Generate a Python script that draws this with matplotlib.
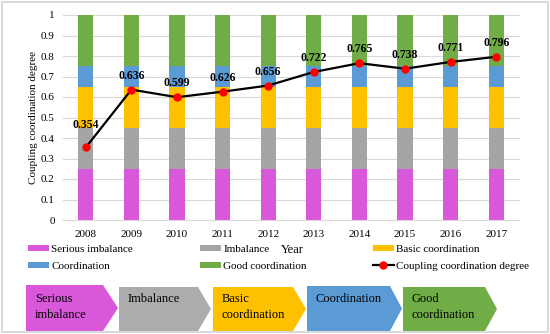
import numpy as np
import matplotlib
matplotlib.use('Agg')
import matplotlib.pyplot as plt
from matplotlib.patches import Polygon, Rectangle

plt.rcParams['font.family'] = ['Liberation Serif', 'DejaVu Serif']

years = ['2008', '2009', '2010', '2011', '2012', '2013', '2014', '2015', '2016', '2017']
degree = [0.354, 0.636, 0.599, 0.626, 0.656, 0.722, 0.765, 0.738, 0.771, 0.796]

# stacked band thicknesses per year
serious = [0.25, 0.25, 0.25, 0.25, 0.25, 0.25, 0.25, 0.25, 0.25, 0.25]
imbalance = [0.20, 0.20, 0.20, 0.20, 0.20, 0.20, 0.20, 0.20, 0.20, 0.20]
basic = [0.20, 0.20, 0.20, 0.20, 0.20, 0.20, 0.20, 0.20, 0.20, 0.20]
coord = [0.10, 0.10, 0.10, 0.10, 0.10, 0.10, 0.10, 0.10, 0.10, 0.10]
good = [0.25, 0.25, 0.25, 0.25, 0.25, 0.25, 0.25, 0.25, 0.25, 0.25]

band_names = ['Serious imbalance', 'Imbalance', 'Basic coordination', 'Coordination', 'Good coordination']
band_colors = ['#D957D9', '#A5A5A5', '#FFC000', '#5B9BD5', '#70AD47']
arrow_colors = ['#D957D9', '#AEABAB', '#FFC000', '#5B9BD5', '#70AD47']
arrow_labels = ['Serious\nimbalance', 'Imbalance', 'Basic\ncoordination', 'Coordination', 'Good\ncoordination']

W, H = 550, 334
fig = plt.figure(figsize=(W / 100, H / 100), dpi=100)
ax = fig.add_axes([63 / W, 1 - 220 / H, 456 / W, 205 / H])

x = np.arange(len(years))
bottom = np.zeros(len(years))
bars = []
for vals, name, col in zip([serious, imbalance, basic, coord, good], band_names, band_colors):
    b = ax.bar(x, vals, width=0.33, bottom=bottom, color=col, label=name, zorder=2)
    bars.append(b)
    bottom = bottom + np.array(vals)

line, = ax.plot(x, degree, color='black', lw=1.6, marker='o', ms=5,
                mfc='red', mec='red', zorder=5, label='Coupling coordination degree')

for i, v in enumerate(degree):
    off = 16 if i == 0 else 10
    ax.annotate(f'{v:.3f}', (x[i], v), xytext=(0, off), textcoords='offset points',
                ha='center', va='center', fontsize=8.5, fontweight='bold')

ax.set_xlim(-0.5, len(years) - 0.5)
ax.set_ylim(0, 1)
ax.set_yticks(np.arange(0, 1.01, 0.1))
ax.set_yticklabels([f'{t:g}' for t in np.arange(0, 1.01, 0.1).round(1)])
ax.set_xticks(x)
ax.set_xticklabels(years)
ax.tick_params(length=0, labelsize=8)
ax.tick_params(axis='y', pad=6)
ax.tick_params(axis='x', pad=7)
ax.grid(axis='y', color='#D9D9D9', lw=0.8, zorder=0)
for gl in ax.get_ygridlines():
    gl.set_clip_on(False)
for s in ax.spines.values():
    s.set_visible(False)
ax.set_ylabel('Coupling coordination degree', fontsize=8, labelpad=2)

# legend in three columns
cols = [(28, [bars[0], bars[3]]), (200, [bars[1], bars[4]]), (373, [bars[2], line])]
for cx, hs in cols:
    fig.legend(hs, [h.get_label() for h in hs], loc='upper left',
               bbox_to_anchor=(cx / W, 1 - 245 / H), frameon=False, fontsize=8,
               handlelength=1.85, handleheight=0.45, handletextpad=0.25,
               labelspacing=0.7, borderpad=0, borderaxespad=0)
fig.text(292 / W, 1 - 250 / H, 'Year', ha='center', va='center', fontsize=9)

# overlay in pixel coordinates for the arrow strip and border
ov = fig.add_axes([0, 0, 1, 1], zorder=-1)
ov.set_xlim(0, W)
ov.set_ylim(H, 0)
ov.axis('off')
shapes = [(26, 285, 103, 118), (119, 287, 198, 211), (213, 287, 293, 306),
          (307, 286, 390, 402), (403, 287, 485, 497)]
bot = 331
for (l, t, sh, tip), col, lab in zip(shapes, arrow_colors, arrow_labels):
    ov.add_patch(Polygon([(l, t), (sh, t), (tip, (t + bot) / 2), (sh, bot), (l, bot)],
                         closed=True, facecolor=col, edgecolor='none'))
    ov.text(l + 9, 293, lab, ha='left', va='top', fontsize=9, linespacing=1.5)
ov.add_patch(Rectangle((2, 2), W - 4, H - 4, fill=False, edgecolor='#D9D9D9', lw=1.5))

fig.savefig('out.png', dpi=100)
